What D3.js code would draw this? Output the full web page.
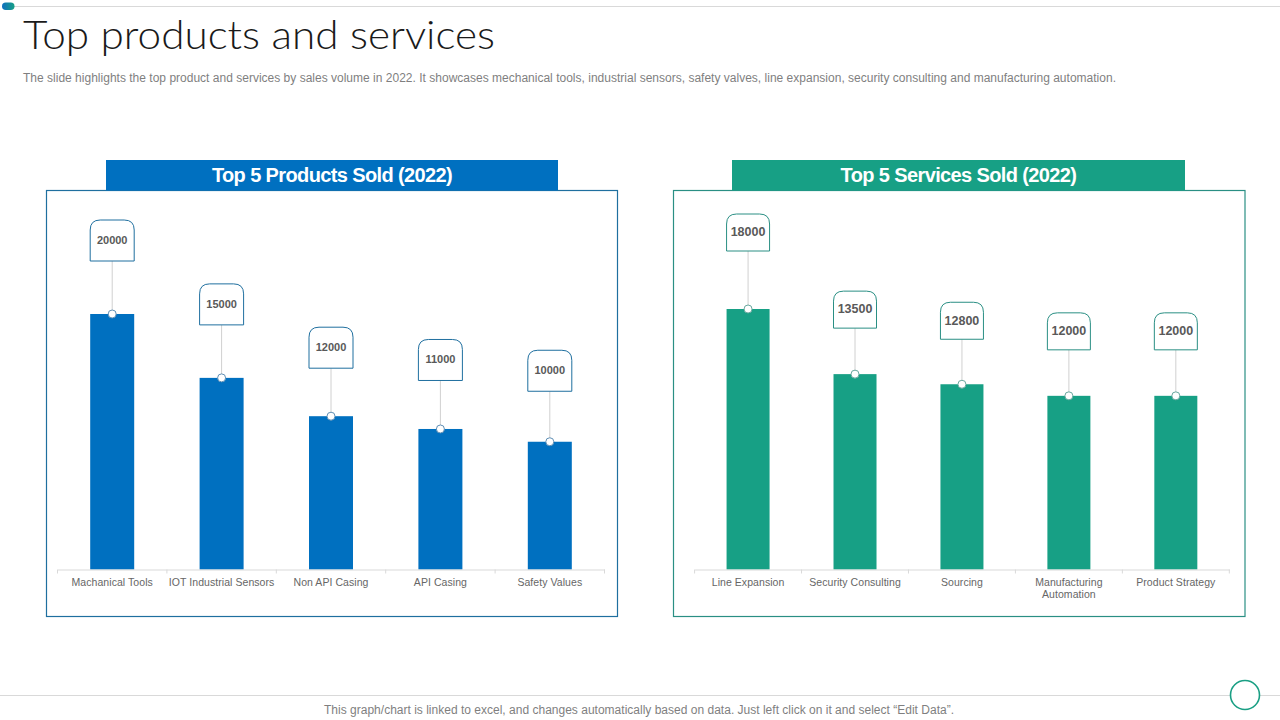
<!DOCTYPE html>
<html><head><meta charset="utf-8">
<script src="https://cdn.jsdelivr.net/npm/d3@7"></script>
<style>html,body{margin:0;padding:0;background:#fff}svg{display:block}text{font-family:"Liberation Sans",Arial,sans-serif}</style>
</head><body><svg id="c" width="1280" height="720"></svg>
<script>
const productCategories = ["Machanical Tools","IOT Industrial Sensors","Non API Casing","API Casing","Safety Values"];
const productValues = [20000,15000,12000,11000,10000];
const serviceCategories = ["Line Expansion","Security Consulting","Sourcing","Manufacturing Automation","Product Strategy"];
const serviceValues = [18000,13500,12800,12000,12000];
const productStems = [53,53,48,48.5,50.5];
const serviceStems = [58,46,45,46,46];

const svg = d3.select("#c");
const defs = svg.append("defs");
const g = defs.append("linearGradient").attr("id","pill");
g.append("stop").attr("offset","0").attr("stop-color","#0f6fc0");
g.append("stop").attr("offset","1").attr("stop-color","#17a085");

svg.append("line").attr("x1",14).attr("x2",1280).attr("y1",6.5).attr("y2",6.5).attr("stroke","#d9d9d9");
svg.append("rect").attr("x",2).attr("y",2.5).attr("width",12.5).attr("height",7.5).attr("rx",3.75).attr("fill","url(#pill)");
svg.append("text").attr("x",23).attr("y",49).attr("font-size",40).style("font-family","Lato").attr("font-weight",300).attr("fill","#1a1a1a").attr("textLength",472).attr("lengthAdjust","spacingAndGlyphs").text("Top products and services");
svg.append("text").attr("x",23).attr("y",82).attr("font-size",12).attr("fill","#7f7f7f").attr("textLength",1093)
 .text("The slide highlights the top product and services by sales volume in 2022. It showcases mechanical tools, industrial sensors, safety valves,  line expansion, security consulting and manufacturing automation.");
svg.append("line").attr("x1",0).attr("x2",1280).attr("y1",695.5).attr("y2",695.5).attr("stroke","#d9d9d9");
svg.append("circle").attr("cx",1245).attr("cy",695).attr("r",14.5).attr("fill","#fff").attr("stroke","#1a9f84").attr("stroke-width",1.6);
svg.append("text").attr("x",639).attr("y",714).attr("text-anchor","middle").attr("font-size",12).attr("fill","#7f7f7f").attr("textLength",630)
 .text("This graph/chart is linked to excel,  and changes automatically based on data. Just left click on it and select “Edit Data”.");

function panel(o){
  svg.append("rect").attr("x",o.px).attr("y",190.5).attr("width",o.pw).attr("height",426).attr("fill","#fff").attr("stroke",o.border).attr("stroke-width",1.2);
  svg.append("rect").attr("x",o.hx).attr("y",160).attr("width",o.hw).attr("height",30.5).attr("fill",o.color);
  svg.append("text").attr("x",o.hx+o.hw/2).attr("y",182).attr("text-anchor","middle").attr("font-size",20).attr("font-weight",700).attr("fill","#fff").attr("letter-spacing",-0.62).text(o.title);
  const base = 569.5;
  const x = d3.scaleBand().domain(o.cats).range(o.xr).paddingInner(0).paddingOuter(0);
  const y = d3.scaleLinear().domain([0,o.max]).range([base,o.topY]);
  const bw = o.barW;
  const G = svg.append("g");
  G.selectAll("rect.bar").data(o.vals).join("rect").attr("class","bar")
   .attr("x",(d,i)=>x(o.cats[i])+x.bandwidth()/2-bw/2).attr("width",bw)
   .attr("y",d=>y(d)).attr("height",d=>base-y(d)).attr("fill",o.color);
  const ax = G.append("g").attr("transform",`translate(0,${base})`).call(d3.axisBottom(x).tickSize(0).tickPadding(0));
  ax.select(".domain").attr("stroke","#d9d9d9");
  ax.selectAll("text").attr("fill","#666666").attr("font-size",10.5).attr("letter-spacing",0.06).attr("y",16.5).attr("dy",0).style("font-family",'"Liberation Sans"')
   .each(function(d){
     const words=d.split(" ");
     if(d.length>22){const t=d3.select(this);t.text(null);words.forEach((w,k)=>t.append("tspan").attr("x",0).attr("dy",k?12:0).text(w));}
   });
  const edges = o.cats.map(c=>x(c)).concat([o.xr[1]]);
  G.selectAll("line.tk").data(edges).join("line").attr("class","tk").attr("x1",d=>d).attr("x2",d=>d).attr("y1",base).attr("y2",base+4).attr("stroke","#d9d9d9");
  o.vals.forEach((v,i)=>{
    const cx = x(o.cats[i])+x.bandwidth()/2, top=y(v), b=top-o.stems[i], h=o.boxH, w=bw, r=10, l=cx-w/2;
    G.append("line").attr("x1",cx).attr("x2",cx).attr("y1",top).attr("y2",b).attr("stroke","#d0d0d0");
    G.append("path").attr("d",`M${l},${b}V${b-h+r}Q${l},${b-h} ${l+r},${b-h}H${l+w-r}Q${l+w},${b-h} ${l+w},${b-h+r}V${b}Z`).attr("fill","#fff").attr("stroke",o.border).attr("stroke-width",1);
    G.append("text").attr("x",cx).attr("y",b-h/2+o.lblF*0.3).attr("text-anchor","middle").attr("font-size",o.lblF).attr("font-weight",700).attr("fill","#595959").text(v);
    G.append("circle").attr("cx",cx).attr("cy",top).attr("r",4).attr("fill","#fff").attr("stroke",o.dot).attr("stroke-width",1);
  });
}
panel({px:46.5,pw:571,hx:106,hw:452,color:"#0070c0",border:"#1f6f9f",dot:"#5f8fb5",title:"Top 5 Products Sold (2022)",
  cats:productCategories,vals:productValues,stems:productStems,xr:[57.5,604.5],topY:314,max:20000,barW:44,boxH:41,lblF:11});
panel({px:673.5,pw:571.5,hx:732,hw:453,color:"#17a085",border:"#2a8f84",dot:"#6aa89f",title:"Top 5 Services Sold (2022)",
  cats:serviceCategories,vals:serviceValues,stems:serviceStems,xr:[694.6,1229.3],topY:309,max:18000,barW:43,boxH:37,lblF:12.5});
</script></body></html>
